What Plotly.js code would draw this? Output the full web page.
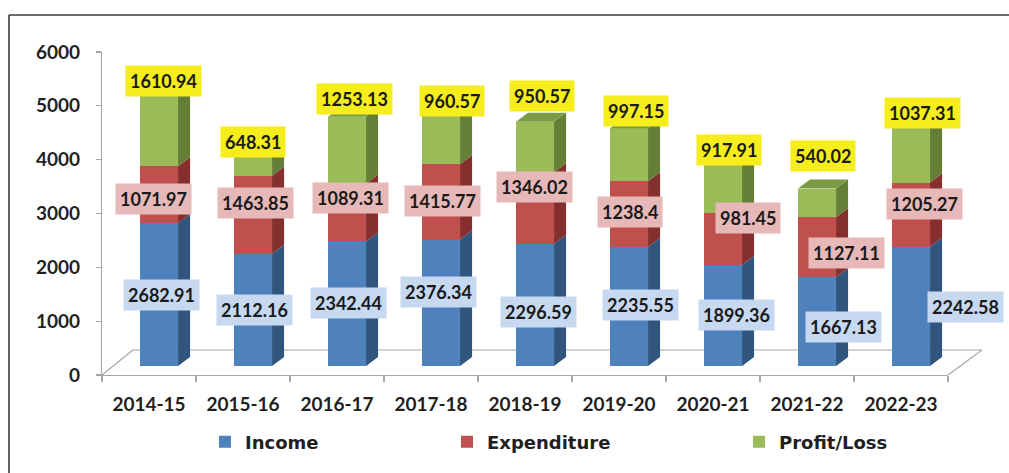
<!DOCTYPE html>
<html><head><meta charset="utf-8">
<script src="https://cdn.plot.ly/plotly-3.0.1.min.js"></script>
<style>html,body{margin:0;padding:0;background:#fff;}#chart{width:1009px;height:473px;}</style>
</head><body><div id="chart"></div>
<script>
// ---- data ----
const years = ["2014-15","2015-16","2016-17","2017-18","2018-19","2019-20","2020-21","2021-22","2022-23"];
const income = [2682.91,2112.16,2342.44,2376.34,2296.59,2235.55,1899.36,1667.13,2242.58];
const expenditure = [1071.97,1463.85,1089.31,1415.77,1346.02,1238.4,981.45,1127.11,1205.27];
const profitLoss = [1610.94,648.31,1253.13,960.57,950.57,997.15,917.91,540.02,1037.31];
const yTickVals = [0,1000,2000,3000,4000,5000,6000];

// ---- label nudges (pixels, as dragged in the original) ----
const incomeLabelDx = [12,11,11,7,13,21,23,36,64];
const incomeLabelDy = [0,0,1,11,-7,2,0,-5,-1];
const expLabelDx = [4,12,13,11,9,11,35,39,23];
const expLabelDy = [-4,12,14,1,21,2,21,-6,11];
const profitLabelDx = [14,10,17,21,17,17,16,16,21];
const profitLabelDy = [0,-1,18,12,26,17,14,33,14];

// ---- style ----
const barWidth = 0.405, barOffset = -0.096;
const depthX = 0.128, depthY = 169;
const C = {
  inc:'#4F81BD', incSide:'#30557F', incLbl:'#C6D9F1',
  exp:'#C0504D', expSide:'#85302E', expLbl:'#E6B9B8',
  pro:'#9BBB59', proSide:'#667F36', proTop:'#7A9A44', proLbl:'#F5EE1C'
};
const idx = years.map((_, i) => i);
const labelFont = {family:'Lato', size:18, weight:'bold', color:'#1A1A1A'};
const axisFont = {family:'Lato', size:19, weight:'bold', color:'#1F1F1F'};
const legendFont = {family:'DejaVu Sans', size:18, weight:'bold', color:'#1F1F1F'};

const base1 = idx.map(() => 0);
const base2 = income.slice();
const base3 = income.map((v, i) => v + expenditure[i]);
const tops = base3.map((v, i) => v + profitLoss[i]);

function sidePoly(bases, vals) {
  const xs = [], ys = [];
  idx.forEach(i => {
    const xr = i + barOffset + barWidth;
    const y0 = bases[i], y1 = bases[i] + vals[i];
    xs.push(xr, xr + depthX, xr + depthX, xr, xr, null);
    ys.push(y0, y0 + depthY, y1 + depthY, y1, y0, null);
  });
  return {xs, ys};
}
function topPoly() {
  const xs = [], ys = [];
  idx.forEach(i => {
    const xl = i + barOffset, xr = xl + barWidth, t = tops[i];
    xs.push(xl, xl + depthX, xr + depthX, xr, xl, null);
    ys.push(t, t + depthY, t + depthY, t, t, null);
  });
  return {xs, ys};
}

function barTrace(name, vals, color, legend) {
  return {type:'bar', name, x:idx, y:vals, xaxis:'x', yaxis:'y2',
    width:barWidth, offset:barOffset, marker:{color, line:{width:0}},
    hoverinfo:'skip', legend};
}
function polyTrace(p, color) {
  return {type:'scatter', mode:'lines', x:p.xs, y:p.ys, xaxis:'x', yaxis:'y2',
    fill:'toself', fillcolor:color, line:{width:0, color}, hoverinfo:'skip', showlegend:false};
}

const sInc = sidePoly(base1, income), sExp = sidePoly(base2, expenditure), sPro = sidePoly(base3, profitLoss);
const traces = [
  barTrace('Income', income, C.inc, 'legend'),
  barTrace('Expenditure', expenditure, C.exp, 'legend2'),
  barTrace('Profit/Loss', profitLoss, C.pro, 'legend3'),
  polyTrace(sInc, C.incSide),
  polyTrace(sExp, C.expSide),
  polyTrace(sPro, C.proSide),
  polyTrace(topPoly(), C.proTop),
  {type:'scatter', mode:'markers', x:[0], y:[0], xaxis:'x2', yaxis:'y',
   marker:{opacity:0}, hoverinfo:'skip', showlegend:false}
];

const annotations = [];
function addLabels(bases, vals, mid, bg, dx, dy) {
  idx.forEach(i => {
    annotations.push({xref:'x', yref:'y2', x:i,
      y: mid ? bases[i] + vals[i] / 2 : bases[i] + vals[i],
      text:String(vals[i]), showarrow:false, bgcolor:bg, borderpad:4,
      font:labelFont, xshift:dx[i], yshift:dy[i]});
  });
}
addLabels(base1, income, true, C.incLbl, incomeLabelDx, incomeLabelDy);
addLabels(base2, expenditure, true, C.expLbl, expLabelDx, expLabelDy);
addLabels(base3, profitLoss, false, C.proLbl, profitLabelDx, profitLabelDy);
// cropped title remnants
annotations.push({xref:'paper', yref:'paper', x:(815-102)/846, y:(375-4)/323, yanchor:'bottom',
  text:'(', showarrow:false, font:{family:'Lato', size:22, color:'#333'}});
annotations.push({xref:'paper', yref:'paper', x:(934-102)/846, y:(375-4)/323, yanchor:'bottom',
  text:')', showarrow:false, font:{family:'Lato', size:22, color:'#333'}});

const px = v => (v - 102) / 846, py = v => (375 - v) / 323;
const floorLine = {color:'#A6A6A6', width:1.2};
const frameLine = {color:'#3A3A3A', width:1.6};
const shapes = [
  {type:'line', xref:'paper', yref:'paper', x0:px(133), y0:py(350), x1:px(982), y1:py(350), line:floorLine, layer:'below'},
  {type:'line', xref:'paper', yref:'paper', x0:px(102), y0:py(375), x1:px(133), y1:py(350), line:floorLine, layer:'below'},
  {type:'line', xref:'paper', yref:'paper', x0:px(948), y0:py(375), x1:px(982), y1:py(350), line:floorLine, layer:'below'},
  {type:'line', xref:'paper', yref:'paper', x0:px(9), y0:py(15), x1:px(1015), y1:py(15), line:frameLine},
  {type:'line', xref:'paper', yref:'paper', x0:px(9), y0:py(15), x1:px(9), y1:py(480), line:frameLine}
];

const legendBase = {orientation:'h', yanchor:'middle', xanchor:'left', y:py(442),
  font:legendFont, bgcolor:'rgba(0,0,0,0)', borderwidth:0};

const layout = {
  width:1009, height:473, margin:{l:102, r:61, t:52, b:98},
  paper_bgcolor:'#fff', plot_bgcolor:'rgba(0,0,0,0)',
  barmode:'stack', showlegend:true,
  xaxis:{range:[-0.5,8.5], tickvals:idx, ticktext:years, ticks:'', showline:true,
    linecolor:'#A6A6A6', linewidth:1.2, showgrid:false, zeroline:false, tickfont:axisFont,
    ticklabelstandoff:12, fixedrange:true},
  xaxis2:{overlaying:'x', anchor:'y', range:[-0.5,8.5], tickvals:idx.concat([9]).map(v => v - 0.5),
    ticks:'outside', ticklen:6, tickcolor:'#A6A6A6', tickwidth:1.2, showticklabels:false,
    showgrid:false, zeroline:false, showline:false, fixedrange:true},
  yaxis:{range:[0,6000], tickvals:yTickVals, ticks:'outside', ticklen:5, tickcolor:'#A6A6A6',
    tickwidth:1.2, showline:true, linecolor:'#A6A6A6', linewidth:1.2, showgrid:false,
    zeroline:false, tickfont:axisFont, ticklabelstandoff:12, fixedrange:true},
  yaxis2:{overlaying:'y', range:[-169,5902], visible:false, fixedrange:true},
  legend:Object.assign({x:px(205)}, legendBase),
  legend2:Object.assign({x:px(447)}, legendBase),
  legend3:Object.assign({x:px(739)}, legendBase),
  annotations, shapes
};
Plotly.newPlot('chart', traces, layout, {displayModeBar:false, staticPlot:true});
</script></body></html>
